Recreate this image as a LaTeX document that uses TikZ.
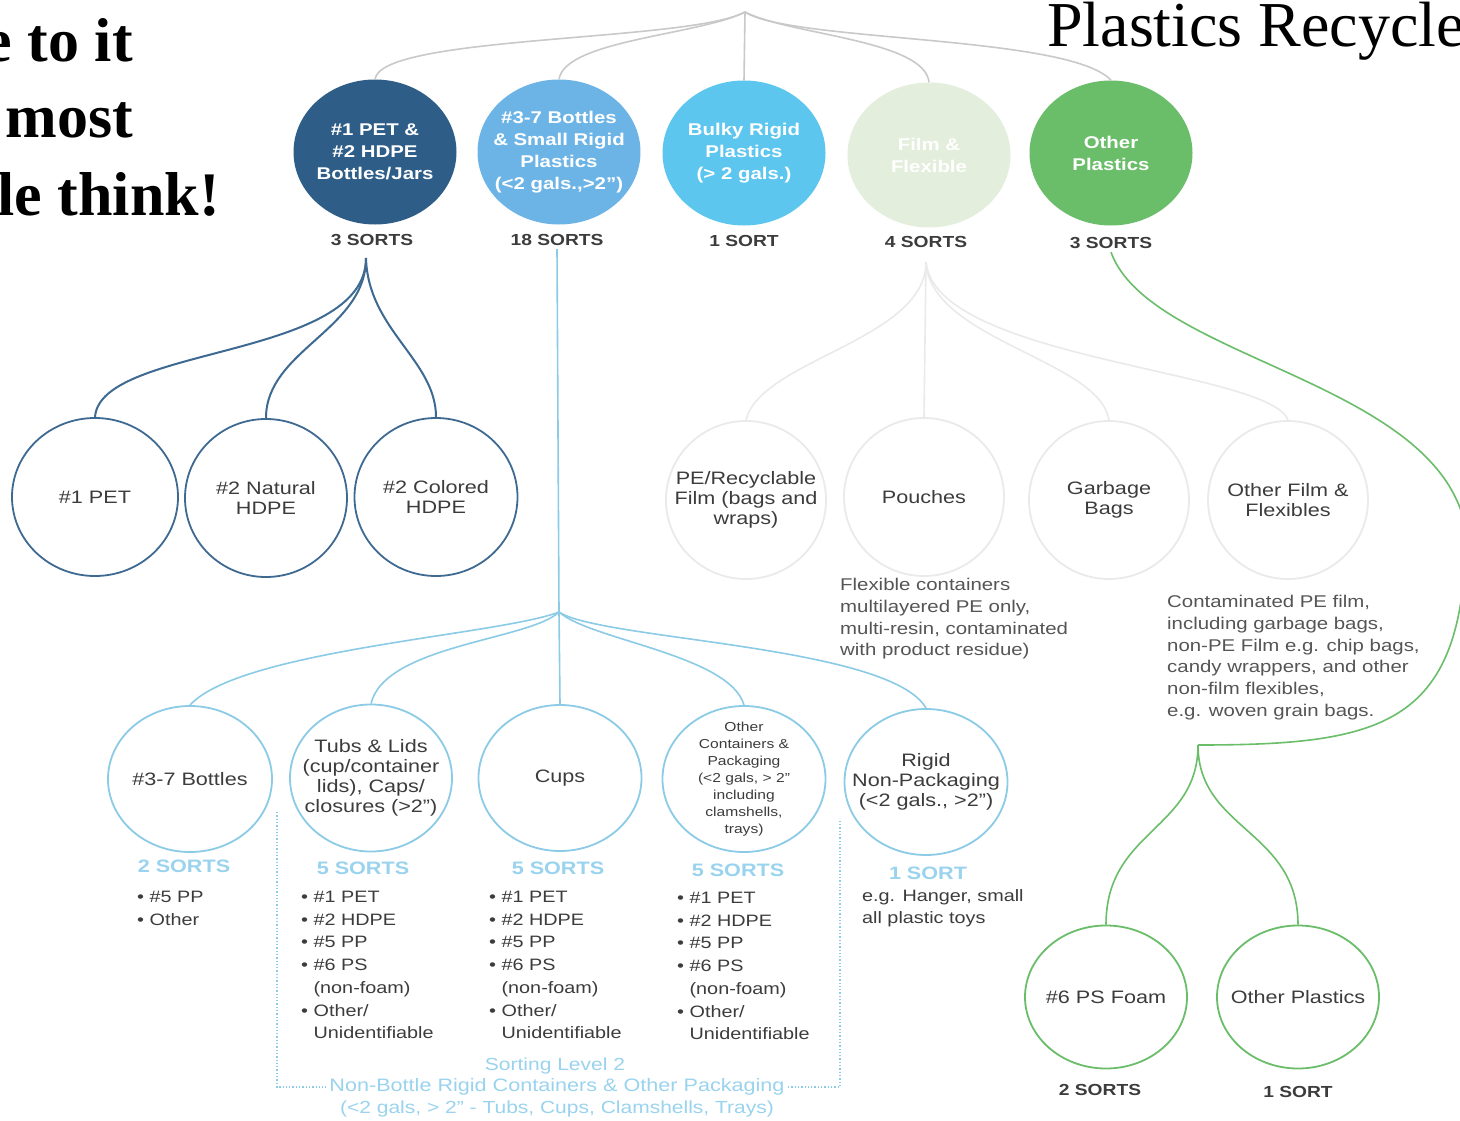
\documentclass[tikz,border=0pt]{standalone}
\usepackage{fontspec}
\setmainfont{Liberation Sans}[FakeStretch=1.2]
\newfontfamily\titleserif{Liberation Serif}
\usetikzlibrary{shapes.geometric}

\definecolor{petblue}{HTML}{2E5E88}
\definecolor{rigidblue}{HTML}{6DB4E6}
\definecolor{bulkycyan}{HTML}{5CC6EF}
\definecolor{filmpale}{HTML}{E3EEDC}
\definecolor{othergreen}{HTML}{6ABD69}
\definecolor{petline}{HTML}{3E6A92}
\definecolor{rigidline}{HTML}{8BCBE6}
\definecolor{filmline}{HTML}{EAEAEA}
\definecolor{topline}{HTML}{C9C9C9}
\definecolor{txtdark}{HTML}{3C3C3C}
\definecolor{txtgray}{HTML}{555555}
\definecolor{sortblue}{HTML}{9AD3EE}

\tikzset{
  topcirc/.style={ellipse, minimum width=163pt, minimum height=145pt, inner sep=-25pt,
    align=center, text=white, font=\bfseries\fontsize{17}{22}\selectfont},
  ring/.style={ellipse, draw, line width=1.8pt, minimum width=163pt, minimum height=146pt,
    inner sep=-25pt, align=center, text=txtdark, font=\fontsize{18}{20}\selectfont},
  sortlbl/.style={text=txtdark, font=\bfseries\fontsize{16}{20}\selectfont},
  bluesort/.style={text=sortblue, font=\bfseries\fontsize{18}{20}\selectfont},
  note/.style={anchor=north west, align=left, inner sep=0pt, text=txtgray,
    font=\fontsize{17}{21.8}\selectfont},
  bullets/.style={anchor=north west, align=left, inner sep=0pt, text=txtdark,
    font=\fontsize{16.5}{22.7}\selectfont},
  headline/.style={inner sep=0pt, font=\titleserif\bfseries\fontsize{62}{70}\selectfont},
  branch/.style={line width=1.6pt},
}

\newcommand{\resinlist}{\textbullet\ \#1 PET\\\textbullet\ \#2 HDPE\\\textbullet\ \#5 PP\\
  \textbullet\ \#6 PS\\\phantom{\textbullet\ }(non-foam)\\\textbullet\ Other/\\
  \phantom{\textbullet\ }Unidentifiable}

\begin{document}
\begin{tikzpicture}[x=1pt,y=-1pt]
  \fill[white] (0,0) rectangle (1460,1121);
  \useasboundingbox (0,0) rectangle (1460,1121);
  \clip (0,0) rectangle (1460,1121);

  % slide text
  \node[headline, anchor=base east] (head1) at (133,62) {e to it};
  \node[headline, anchor=base east] (head2) at (133,138) {most};
  \node[headline, anchor=base east] (head3) at (220,215) {le think!};
  \node[anchor=base west, inner sep=0pt, font=\titleserif\fontsize{64}{70}\selectfont] (title) at (1047,47) {Plastics Recycle};

  % first level
  \coordinate (top) at (745,12);
  \node[topcirc, fill=petblue] (pet) at (375,152) {\#1 PET \&\\\#2 HDPE\\Bottles/Jars};
  \node[topcirc, fill=rigidblue] (rigid) at (559,152) {\#3-7 Bottles\\\& Small Rigid\\Plastics\\(<2 gals.,>2'')};
  \node[topcirc, fill=bulkycyan] (bulky) at (744,153) {Bulky Rigid\\Plastics\\(> 2 gals.)};
  \node[topcirc, fill=filmpale] (film) at (929,155) {Film \&\\Flexible};
  \node[topcirc, fill=othergreen] (other) at (1111,153) {Other\\Plastics};

  \node[sortlbl] (petsorts) at (372,240) {3 SORTS};
  \node[sortlbl] (rigidsorts) at (557,240) {18 SORTS};
  \node[sortlbl] (bulkysorts) at (744,241) {1 SORT};
  \node[sortlbl] (filmsorts) at (926,242) {4 SORTS};
  \node[sortlbl] (othersorts) at (1111,243) {3 SORTS};

  \begin{scope}[branch, draw=topline]
    \draw (top) .. controls (690,42) and (380,35) .. (pet.north);
    \draw (top) .. controls (700,35) and (565,40) .. (rigid.north);
    \draw (top) -- (bulky.north);
    \draw (top) .. controls (790,35) and (925,40) .. (film.north);
    \draw (top) .. controls (790,42) and (1070,35) .. (other.north);
  \end{scope}

  % PET and HDPE
  \coordinate (petfork) at (366,258);
  \node[ring, draw=petline, minimum width=166pt, minimum height=158pt] (pet1) at (95,497) {\#1 PET};
  \node[ring, draw=petline, minimum width=162pt, minimum height=158pt] (nat) at (266,498) {\#2 Natural\\HDPE};
  \node[ring, draw=petline, minimum width=163pt, minimum height=158pt] (col) at (436,497) {\#2 Colored\\HDPE};
  \begin{scope}[branch, line width=2pt, draw=petline]
    \draw (petfork) .. controls (366,360) and (100,345) .. (pet1.north);
    \draw (petfork) .. controls (366,330) and (266,350) .. (nat.north);
    \draw (petfork) .. controls (368,330) and (436,360) .. (col.north);
  \end{scope}

  % film and flexibles
  \coordinate (filmfork) at (926,262);
  \node[ring, draw=filmline, minimum width=160pt, minimum height=158pt] (pe) at (746,500) {PE/Recyclable\\Film (bags and\\wraps)};
  \node[ring, draw=filmline, minimum width=160pt, minimum height=158pt] (pouch) at (924,497) {Pouches};
  \node[ring, draw=filmline, minimum width=160pt, minimum height=158pt] (garb) at (1109,500) {Garbage\\Bags};
  \node[ring, draw=filmline, minimum width=160pt, minimum height=158pt] (ofilm) at (1288,500) {Other Film \&\\Flexibles};
  \begin{scope}[branch, draw=filmline]
    \draw (filmfork) .. controls (926,340) and (760,360) .. (pe.north);
    \draw (filmfork) -- (pouch.north);
    \draw (filmfork) .. controls (930,340) and (1100,360) .. (garb.north);
    \draw (filmfork) .. controls (935,360) and (1270,370) .. (ofilm.north);
  \end{scope}
  \node[note] (pouchnote) at (840,578) {Flexible containers\\multilayered PE only,\\multi-resin, contaminated\\with product residue)};
  \node[note] (filmnote) at (1167,595) {Contaminated PE film,\\including garbage bags,\\non-PE Film e.g. chip bags,\\candy wrappers, and other\\non-film flexibles,\\e.g. woven grain bags.};

  % rigid containers
  \coordinate (rigidfork) at (559,612);
  \node[ring, draw=rigidline, minimum width=164pt] (b37) at (190,779) {\#3-7 Bottles};
  \node[ring, draw=rigidline, minimum width=162pt, minimum height=147pt] (tubs) at (371,778) {Tubs \& Lids\\(cup/container\\lids), Caps/\\closures (>2'')};
  \node[ring, draw=rigidline] (cups) at (560,778) {Cups};
  \node[ring, draw=rigidline, font=\fontsize{13}{17}\selectfont] (othc) at (744,779) {Other\\Containers \&\\Packaging\\(<2 gals, > 2''\\including\\clamshells,\\trays)};
  \node[ring, draw=rigidline] (rnp) at (926,782) {Rigid\\Non-Packaging\\(<2 gals., >2'')};
  \draw[branch, draw=rigidline] (rigidsorts.south) -- (rigidfork);
  \begin{scope}[branch, draw=rigidline]
    \draw (rigidfork) .. controls (500,635) and (240,650) .. (b37.north);
    \draw (rigidfork) .. controls (530,640) and (385,645) .. (tubs.north);
    \draw (rigidfork) -- (cups.north);
    \draw (rigidfork) .. controls (590,640) and (730,655) .. (othc.north);
    \draw (rigidfork) .. controls (600,640) and (890,645) .. (rnp.north);
  \end{scope}

  \node[bluesort] (b37sorts) at (184,866) {2 SORTS};
  \node[bluesort] (tubssorts) at (363,868) {5 SORTS};
  \node[bluesort] (cupssorts) at (558,868) {5 SORTS};
  \node[bluesort] (othcsorts) at (738,870) {5 SORTS};
  \node[bluesort] (rnpsorts) at (928,873) {1 SORT};

  \node[bullets] (b37list) at (137,891) {\textbullet\ \#5 PP\\\textbullet\ Other};
  \node[bullets] (tubslist) at (301,891) {\resinlist};
  \node[bullets] (cupslist) at (489,891) {\resinlist};
  \node[bullets] (othclist) at (677,892) {\resinlist};
  \node[bullets] (rnplist) at (862,889) {e.g. Hanger, small\\all plastic toys};

  % sorting level 2 frame
  \node[text=sortblue, font=\fontsize{17.5}{20}\selectfont] (lvl2a) at (555,1066) {Sorting Level 2};
  \node[text=sortblue, font=\fontsize{18}{20}\selectfont] (lvl2b) at (557,1087) {Non-Bottle Rigid Containers \& Other Packaging};
  \node[text=sortblue, font=\fontsize{17.5}{20}\selectfont] (lvl2c) at (557,1109) {(<2 gals, > 2'' - Tubs, Cups, Clamshells, Trays)};
  \draw[rigidline, line width=1.3pt, dotted] (277,812) |- (lvl2b.west);
  \draw[rigidline, line width=1.3pt, dotted] (lvl2b.east) -| (840,820);

  % other plastics
  \coordinate (othersplit) at (1198,745);
  \node[ring, draw=othergreen, minimum width=162pt, minimum height=143pt] (foam) at (1106,997) {\#6 PS Foam};
  \node[ring, draw=othergreen, minimum width=162pt, minimum height=143pt] (oplast) at (1298,997) {Other Plastics};
  \begin{scope}[branch, draw=othergreen]
    \draw (othersorts.south) .. controls (1150,360) and (1440,380) .. (1466,530)
      .. controls (1465,725) and (1385,745) .. (othersplit);
    \draw (othersplit) .. controls (1198,830) and (1106,830) .. (foam.north);
    \draw (othersplit) .. controls (1198,830) and (1298,830) .. (oplast.north);
  \end{scope}
  \node[sortlbl] (foamsorts) at (1100,1090) {2 SORTS};
  \node[sortlbl] (oplastsorts) at (1298,1092) {1 SORT};
\end{tikzpicture}
\end{document}
